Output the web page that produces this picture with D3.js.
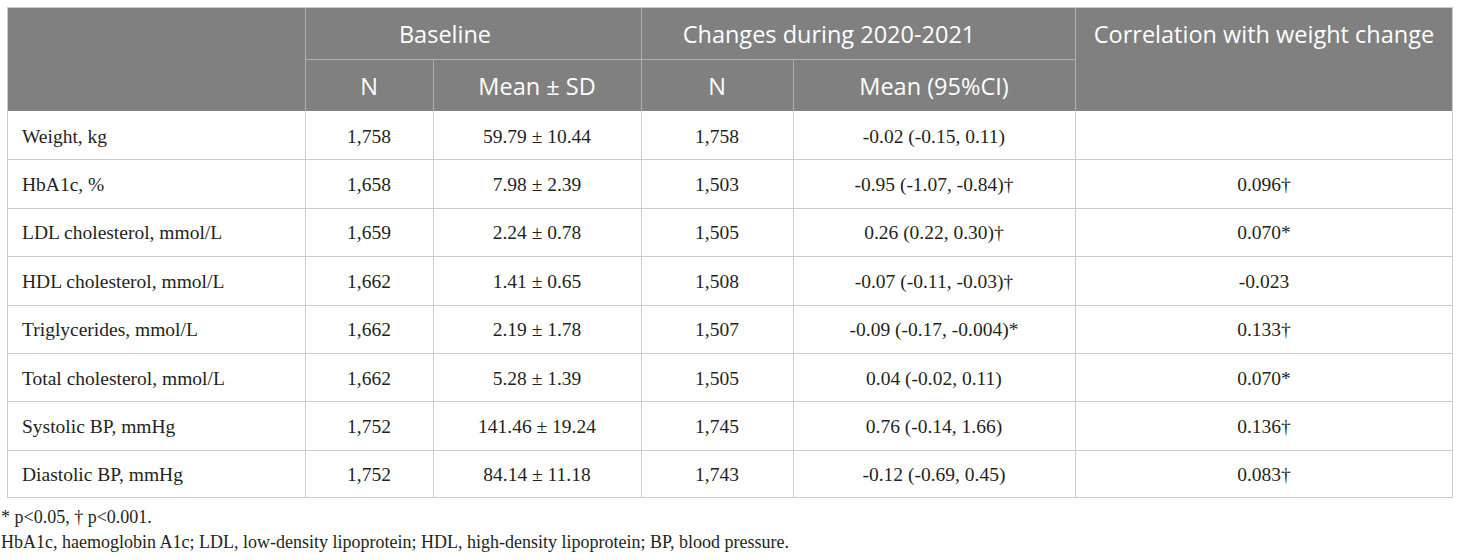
<!DOCTYPE html>
<html>
<head>
<meta charset="utf-8">
<script src="https://cdn.jsdelivr.net/npm/d3@7"></script>
<style>
  body { margin: 0; background: #fff; }
  svg { display: block; }
</style>
</head>
<body>
<svg id="tbl" width="1460" height="560"></svg>
<script>
// table content
var variables = ["Weight, kg", "HbA1c, %", "LDL cholesterol, mmol/L", "HDL cholesterol, mmol/L",
  "Triglycerides, mmol/L", "Total cholesterol, mmol/L", "Systolic BP, mmHg", "Diastolic BP, mmHg"];
var baselineN = ["1,758", "1,658", "1,659", "1,662", "1,662", "1,662", "1,752", "1,752"];
var baselineMean = ["59.79 ± 10.44", "7.98 ± 2.39", "2.24 ± 0.78", "1.41 ± 0.65",
  "2.19 ± 1.78", "5.28 ± 1.39", "141.46 ± 19.24", "84.14 ± 11.18"];
var changeN = ["1,758", "1,503", "1,505", "1,508", "1,507", "1,505", "1,745", "1,743"];
var changeMean = ["-0.02 (-0.15, 0.11)", "-0.95 (-1.07, -0.84)†", "0.26 (0.22, 0.30)†",
  "-0.07 (-0.11, -0.03)†", "-0.09 (-0.17, -0.004)*", "0.04 (-0.02, 0.11)",
  "0.76 (-0.14, 1.66)", "-0.12 (-0.69, 0.45)"];
var correlation = ["", "0.096†", "0.070*", "-0.023", "0.133†", "0.070*", "0.136†", "0.083†"];

var groupHeaders = ["Baseline", "Changes during 2020-2021", "Correlation with weight change"];
var subHeaders = ["N", "Mean ± SD", "N", "Mean (95%CI)"];
var footnotes = ["* p<0.05, † p<0.001.",
  "HbA1c, haemoglobin A1c; LDL, low-density lipoprotein; HDL, high-density lipoprotein; BP, blood pressure."];

// layout
var colKeys = ["var", "bn", "bm", "cn", "cm", "corr"];
var colEdges = [7, 305, 433, 641, 793, 1075, 1453];
var headTop = 7, headMid = 59, headBottom = 111, tableBottom = 498;

var headFill = "#808080", headLine = "#b0b0b0", bodyLine = "#cccccc";
var sansFont = "'Open Sans', sans-serif", serifFont = "'Liberation Serif', 'Times New Roman', serif";

var svg = d3.select("#tbl");

var colLeft = d3.scaleOrdinal().domain(colKeys).range(colEdges.slice(0, 6));
var colRight = d3.scaleOrdinal().domain(colKeys).range(colEdges.slice(1));
function colMid(k) { return (colLeft(k) + colRight(k)) / 2; }

var y = d3.scaleBand()
    .domain(d3.range(variables.length))
    .range([headBottom, tableBottom]);

// header block
svg.append("rect")
    .attr("x", colEdges[0]).attr("y", headTop)
    .attr("width", colEdges[6] - colEdges[0]).attr("height", headBottom - headTop)
    .attr("fill", headFill);

var hl = svg.append("g").attr("stroke", headLine).attr("stroke-width", 1).attr("shape-rendering", "crispEdges");
// vertical lines in header
[["bn", headTop, headBottom], ["bm", headMid, headBottom], ["cn", headTop, headBottom],
 ["cm", headMid, headBottom], ["corr", headTop, headBottom]].forEach(function(d) {
  hl.append("line").attr("x1", colLeft(d[0]) + 0.5).attr("x2", colLeft(d[0]) + 0.5)
    .attr("y1", d[1]).attr("y2", d[2]);
});
hl.append("line").attr("x1", colLeft("bn")).attr("x2", colLeft("corr"))
    .attr("y1", headMid + 0.5).attr("y2", headMid + 0.5);

// spanning headers sit a little left of their span centre in the original
var groupPos = [
  (colLeft("bn") + colRight("bm")) / 2 - 28,
  (colLeft("cn") + colRight("cm")) / 2 - 29,
  colMid("corr")
];
svg.append("g").selectAll("text")
    .data(groupHeaders)
    .enter().append("text")
      .attr("x", function(d, i) { return groupPos[i]; })
      .attr("y", headTop + 36)
      .attr("text-anchor", "middle")
      .attr("fill", "#fff")
      .attr("font-family", sansFont)
      .attr("font-size", 23.5)
      .text(function(d) { return d; });

svg.append("g").selectAll("text")
    .data(subHeaders)
    .enter().append("text")
      .attr("x", function(d, i) { return colMid(colKeys[i + 1]); })
      .attr("y", headMid + 35.5)
      .attr("text-anchor", "middle")
      .attr("fill", "#fff")
      .attr("font-family", sansFont)
      .attr("font-size", 23.5)
      .text(function(d) { return d; });

// body grid
var bl = svg.append("g").attr("stroke", bodyLine).attr("stroke-width", 1)
    .attr("fill", "none").attr("shape-rendering", "crispEdges");
bl.selectAll("line.row")
    .data(d3.range(1, variables.length))
    .enter().append("line")
      .attr("x1", colEdges[0]).attr("x2", colEdges[6])
      .attr("y1", function(i) { return Math.round(y(i)) + 0.5; })
      .attr("y2", function(i) { return Math.round(y(i)) + 0.5; });
bl.selectAll("line.col")
    .data(colKeys.slice(1))
    .enter().append("line")
      .attr("x1", function(k) { return colLeft(k) + 0.5; })
      .attr("x2", function(k) { return colLeft(k) + 0.5; })
      .attr("y1", headBottom).attr("y2", tableBottom);
// outer border
svg.append("rect")
    .attr("x", colEdges[0] + 0.5).attr("y", headTop + 0.5)
    .attr("width", colEdges[6] - colEdges[0] - 1).attr("height", tableBottom - headTop - 1)
    .attr("fill", "none").attr("stroke", bodyLine).attr("shape-rendering", "crispEdges");

// body cells
var columns = [variables, baselineN, baselineMean, changeN, changeMean, correlation];
var rows = svg.append("g")
    .attr("font-family", serifFont)
    .attr("font-size", 19.5)
    .attr("fill", "#231f20")
  .selectAll("g")
  .data(variables)
  .enter().append("g")
    .attr("transform", function(d, i) { return "translate(0," + (y(i) + y.bandwidth() / 2 + 7.5) + ")"; });

colKeys.forEach(function(k, c) {
  rows.append("text")
      .attr("x", c === 0 ? colLeft(k) + 15 : colMid(k))
      .attr("text-anchor", c === 0 ? "start" : "middle")
      .text(function(d, i) { return columns[c][i]; });
});

// footnotes
svg.append("g").selectAll("text")
    .data(footnotes)
    .enter().append("text")
      .attr("x", 1)
      .attr("y", function(d, i) { return 523 + i * 25; })
      .attr("font-family", serifFont)
      .attr("font-size", 18)
      .attr("fill", "#231f20")
      .text(function(d) { return d; });
</script>
</body>
</html>
